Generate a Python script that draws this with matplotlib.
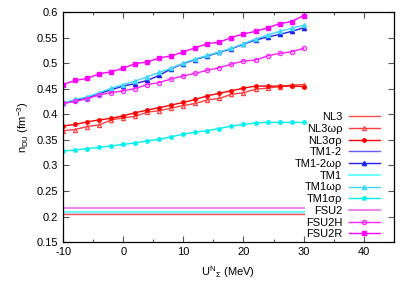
import matplotlib
matplotlib.use("Agg")
import matplotlib.pyplot as plt

plt.rcParams['font.family'] = ['Liberation Sans', 'DejaVu Sans']
plt.rcParams['mathtext.fontset'] = 'custom'
plt.rcParams['mathtext.rm'] = 'Liberation Sans'
plt.rcParams['mathtext.it'] = 'Liberation Sans'
plt.rcParams['axes.unicode_minus'] = False

u = [-10, -8, -6, -4, -2, 0, 2, 4, 6, 8, 10, 12, 14, 16, 18, 20, 22, 24, 26, 28, 30]

nl3_wr = [0.368, 0.370, 0.376, 0.379, 0.389, 0.393, 0.396, 0.404, 0.407, 0.412, 0.417,
          0.421, 0.428, 0.431, 0.439, 0.442, 0.449, 0.451, 0.454, 0.457, 0.458]
nl3_sr = [0.377, 0.380, 0.385, 0.389, 0.392, 0.397, 0.403, 0.408, 0.413, 0.418, 0.423,
          0.429, 0.436, 0.441, 0.446, 0.451, 0.455, 0.455, 0.455, 0.455, 0.454]
tm12_wr = [0.421, 0.427, 0.432, 0.440, 0.448, 0.455, 0.460, 0.466, 0.476, 0.489, 0.499,
           0.507, 0.514, 0.521, 0.528, 0.537, 0.545, 0.551, 0.556, 0.562, 0.569]
tm1_wr = [0.422, 0.429, 0.434, 0.442, 0.451, 0.458, 0.465, 0.473, 0.482, 0.490, 0.500,
          0.508, 0.515, 0.522, 0.529, 0.538, 0.547, 0.555, 0.562, 0.568, 0.574]
tm1_sr = [0.328, 0.330, 0.333, 0.335, 0.338, 0.341, 0.344, 0.348, 0.351, 0.356, 0.361,
          0.365, 0.368, 0.372, 0.377, 0.380, 0.383, 0.384, 0.384, 0.384, 0.384]
fsu2h = [0.421, 0.425, 0.430, 0.438, 0.442, 0.446, 0.450, 0.458, 0.462, 0.469, 0.475,
         0.480, 0.486, 0.491, 0.498, 0.504, 0.506, 0.514, 0.519, 0.522, 0.529]
fsu2r = [0.458, 0.466, 0.470, 0.479, 0.483, 0.490, 0.499, 0.502, 0.510, 0.514, 0.522,
         0.530, 0.538, 0.541, 0.550, 0.557, 0.562, 0.569, 0.577, 0.581, 0.593]

# models without sigma dependence: constant values
nl3 = 0.204
tm12 = 0.208
tm1 = 0.209
fsu2 = 0.216

fig = plt.figure(figsize=(4.15, 2.91), dpi=100)
ax = fig.add_axes([0.152, 0.168, 0.797, 0.791])

ax.plot(u, [nl3] * len(u), color='#ff5050', lw=1.0, label='NL3')
ax.plot(u, nl3_wr, color='#ff4040', lw=1.0, marker='^', ms=3, mfc='none', mew=0.9, label='NL3ωρ')
ax.plot(u, nl3_sr, color='#ff0000', lw=1.0, marker='o', ms=2.5, label='NL3σρ')
ax.plot(u, [tm12] * len(u), color='#6060ff', lw=1.0, label='TM1-2')
ax.plot(u, tm12_wr, color='#2020f0', lw=1.0, marker='^', ms=3, label='TM1-2ωρ')
ax.plot(u, [tm1] * len(u), color='#70ffff', lw=1.5, label='TM1')
ax.plot(u, tm1_wr, color='#40d8ff', lw=1.0, marker='^', ms=3, label='TM1ωρ')
ax.plot(u, tm1_sr, color='#00f0f0', lw=1.0, marker='o', ms=2.5, label='TM1σρ')
ax.plot(u, [fsu2] * len(u), color='#ee88ee', lw=1.5, label='FSU2')
ax.plot(u, fsu2h, color='#ff20ff', lw=1.0, marker='o', ms=3, mfc='none', mew=0.9, label='FSU2H')
ax.plot(u, fsu2r, color='#ff00ff', lw=1.0, marker='s', ms=2.5, label='FSU2R')

ax.set_xlim(-10, 45)
ax.set_ylim(0.15, 0.6)
ax.set_xticks([-10, 0, 10, 20, 30, 40])
ax.set_xticks([-5, 5, 15, 25, 35, 45], minor=True)
ax.set_yticks([0.15, 0.2, 0.25, 0.3, 0.35, 0.4, 0.45, 0.5, 0.55, 0.6])
ax.set_yticklabels(['0.15', '0.2', '0.25', '0.3', '0.35', '0.4', '0.45', '0.5', '0.55', '0.6'])
ax.tick_params(which='both', direction='in', top=True, right=True, labelsize=8, color='#555555')
ax.tick_params(which='major', length=4, width=0.8)
ax.tick_params(which='minor', length=2, width=0.8)
for s in ax.spines.values():
    s.set_linewidth(0.9)

ax.set_xlabel(r'U$^{\rm N}$$_{\Sigma}$ (MeV)', fontsize=8, labelpad=5)
ax.set_ylabel(r'n$_{\rm DU}$ (fm$^{-3}$)', fontsize=8, labelpad=4)

ax.legend(loc='lower right', bbox_to_anchor=(0.958, 0.012), frameon=False, fontsize=8,
          markerfirst=False, handlelength=2.8, labelspacing=0.155, borderaxespad=0,
          borderpad=0, handletextpad=0.6)

fig.savefig('out.png', dpi=100)
